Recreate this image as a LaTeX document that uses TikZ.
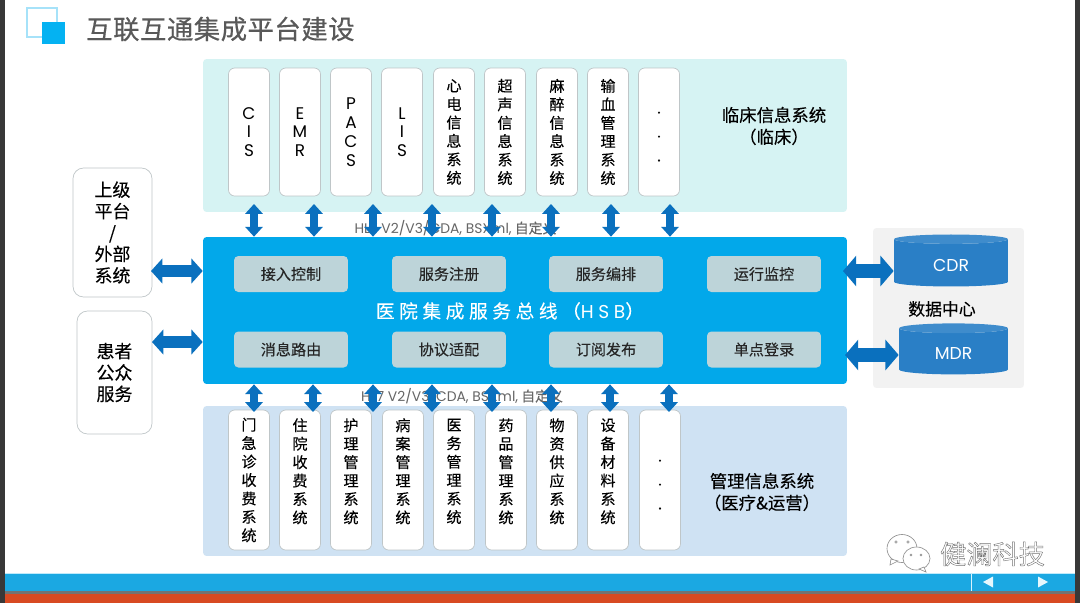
\documentclass[tikz,border=0pt]{standalone}
\usepackage{fontspec}
\setmainfont[FakeBold=0.2]{Noto Sans CJK SC}
\newfontfamily\plainfont{Noto Sans CJK SC}
\newfontfamily\titlefont[LetterSpace=2,FakeBold=0.5]{Noto Sans CJK SC}
\newfontfamily\busfont[LetterSpace=25,FakeBold=0.3]{Noto Sans CJK SC}
\newfontfamily\latinfont{Poppins}
\newfontfamily\buslatin[LetterSpace=25]{Poppins}
\usetikzlibrary{arrows.meta,shapes.geometric}

\definecolor{hsbblue}{HTML}{02A8EA}
\definecolor{arrowblue}{HTML}{0A70BE}
\definecolor{tilegrey}{HTML}{BDD4D9}
\definecolor{clinpanel}{HTML}{D6F3F3}
\definecolor{mgmtpanel}{HTML}{CFE2F3}
\definecolor{cylblue}{HTML}{2A7FC6}
\definecolor{boxline}{HTML}{BFC6C8}
\definecolor{barblue}{HTML}{1BA8E2}
\definecolor{barred}{HTML}{D84A22}
\definecolor{iconblue}{HTML}{04B2F2}

\newcommand{\threedots}{\rule{0pt}{6.3pt}.\\[3.1pt].\\[3.1pt].}
\newcommand{\protocoltext}{{\latinfont HL7 V2/V3/CDA, BSXml,} 自定义}

\tikzset{
  sysbox/.style={draw=boxline, fill=white, rounded corners=3.5pt, minimum width=0.82cm,
    align=center, inner sep=0.001, font=\fontsize{8.6}{10.5}\selectfont},
  clinbox/.style={sysbox, minimum height=2.56cm},
  latinbox/.style={clinbox, font=\latinfont\fontsize{9.6}{10.7}\selectfont},
  mgmtbox/.style={sysbox, minimum height=2.8cm},
  sidebox/.style={draw=boxline, fill=white, rounded corners=6pt, align=center,
    inner sep=0.001, font=\fontsize{10.2}{12.2}\selectfont},
  tile/.style={fill=tilegrey, rounded corners=2.5pt, minimum width=2.28cm, minimum height=0.72cm,
    inner sep=0.001, font=\fontsize{8.6}{10}\selectfont, text=black!85},
  panel/.style={rounded corners=2pt, inner sep=0.001},
  biarrow/.style={draw=arrowblue, line width=4pt, {Triangle[width=9.8pt,length=5.6pt]}-{Triangle[width=9.8pt,length=5.6pt]}},
  wideArrow/.style={draw=arrowblue, line width=7pt, {Triangle[width=14pt,length=6.5pt]}-{Triangle[width=14pt,length=6.5pt]}},
  dataArrow/.style={draw=arrowblue, line width=8pt, {Triangle[width=17pt,length=7.5pt]}-{Triangle[width=17pt,length=7.5pt]}},
  store/.style={cylinder, shape border rotate=90, aspect=0.26, cylinder uses custom fill,
    cylinder body fill=cylblue, cylinder end fill=cylblue!90!white, text=white, inner sep=0.001,
    font=\latinfont\fontsize{9.8}{11}\selectfont},
  protocol/.style={text=black!60, inner sep=0.001, font=\fontsize{7.9}{8}\selectfont},
  panellabel/.style={align=center, inner sep=0.001, font=\fontsize{9.9}{12.4}\selectfont},
}

\begin{document}
\begin{tikzpicture}[x=0.02cm, y=-0.02cm]
  \useasboundingbox (0,0) rectangle (1080,603);

  % Slide frame
  \fill[white] (0,0) rectangle (1080,603);
  \fill[black!78] (0,0) rectangle (5,603);
  \fill[black!78] (1075,0) rectangle (1080,603);
  \fill[cyan!25] (5,572.5) rectangle (1075,574);
  \fill[black!55] (5,591) rectangle (1075,593.5);
  \fill[barblue] (5,574) rectangle (1075,591);
  \fill[barred] (5,593.5) rectangle (1075,603);
  \draw[white!85!cyan, line width=0.5pt] (971,574) -- (971,591);
  \fill[white!90!cyan] (983,582) -- (993,576.5) -- (993,587.5) -- cycle;
  \fill[white!90!cyan] (1048,582) -- (1038,576.5) -- (1038,587.5) -- cycle;

  % Title
  \draw[cyan!35, line width=0.6pt] (27,8) rectangle (57,37);
  \fill[iconblue] (42,22) rectangle (65,44);
  \node[anchor=west, inner sep=0.001, text=black!65, font=\titlefont\fontsize{15}{18}\selectfont] (title) at (86,29) {互联互通集成平台建设};

  % Panels
  \node[panel, fill=clinpanel, minimum width=12.88cm, minimum height=3.06cm] (clinical) at (525,135.5) {};
  \node[panel, fill=mgmtpanel, minimum width=12.88cm, minimum height=3cm] (manage) at (525,481) {};
  \node[panel, fill=black!5, minimum width=3.02cm, minimum height=3.2cm] (datacenter) at (948.5,308) {};
  \node[panel, fill=hsbblue, minimum width=12.88cm, minimum height=2.94cm] (hsb) at (525,310.5) {};

  % Clinical systems
  \node[latinbox] (clin1) at (249,132) {C\\I\\S};
  \node[latinbox] (clin2) at (300,132) {E\\M\\R};
  \node[latinbox] (clin3) at (351,132) {P\\A\\C\\S};
  \node[latinbox] (clin4) at (402,132) {L\\I\\S};
  \node[clinbox] (clin5) at (454,132) {心\\电\\信\\息\\系\\统};
  \node[clinbox] (clin6) at (505,132) {超\\声\\信\\息\\系\\统};
  \node[clinbox] (clin7) at (557,132) {麻\\醉\\信\\息\\系\\统};
  \node[clinbox] (clin8) at (608,132) {输\\血\\管\\理\\系\\统};
  \node[clinbox] (clin9) at (659,132) {\threedots};

  % Management systems
  \node[mgmtbox] (mgmt1) at (249,480) {门\\急\\诊\\收\\费\\系\\统};
  \node[mgmtbox] (mgmt2) at (300,480) {住\\院\\收\\费\\系\\统\\~};
  \node[mgmtbox] (mgmt3) at (351,480) {护\\理\\管\\理\\系\\统\\~};
  \node[mgmtbox] (mgmt4) at (403,480) {病\\案\\管\\理\\系\\统\\~};
  \node[mgmtbox] (mgmt5) at (454,480) {医\\务\\管\\理\\系\\统\\~};
  \node[mgmtbox] (mgmt6) at (506,480) {药\\品\\管\\理\\系\\统\\~};
  \node[mgmtbox] (mgmt7) at (557,480) {物\\资\\供\\应\\系\\统\\~};
  \node[mgmtbox] (mgmt8) at (608,480) {设\\备\\材\\料\\系\\统\\~};
  \node[mgmtbox] (mgmt9) at (660,480) {\threedots};

  % Bus tiles
  \foreach \x/\upname/\lowname [count=\n] in {
    291/接入控制/消息路由, 449/服务注册/协议适配, 606/服务编排/订阅发布, 764/运行监控/单点登录
  } {
    \node[tile] (tileup\n) at (\x,274) {\upname};
    \node[tile] (tilelow\n) at (\x,349.5) {\lowname};
  }
  \node[inner sep=0.001, text=white, font=\busfont\fontsize{10.6}{12}\selectfont] (hsbname) at (510,311) {医院集成服务总线（{\buslatin HSB}）};

  % Side boxes
  \node[sidebox, minimum width=1.58cm, minimum height=2.58cm] (upper) at (112.5,232.5) {上级\\平台\\/\\外部\\系统};
  \node[sidebox, minimum width=1.5cm, minimum height=2.46cm] (patient) at (114.5,372.5) {患者\\公众\\服务};

  % Data centre
  \node[store, minimum width=2.28cm, minimum height=1.04cm] (cdr) at (951,263) {\rule{0pt}{9.2pt}CDR};
  \node[store, minimum width=2.18cm, minimum height=1.02cm] (mdr) at (953.5,351.5) {\rule{0pt}{9.2pt}MDR};
  \node[inner sep=0.001, font=\fontsize{9.6}{11}\selectfont] (dcname) at (942,309) {数据中心};

  % Right hand labels
  \node[panellabel] (clinname) at (774,126) {临床信息系统\\（临床）};
  \node[panellabel] (mgmtname) at (762,492) {管理信息系统\\（医疗\&运营）};

  % Protocol texts
  \node[protocol] (prototop) at (455.5,228) {\protocoltext};
  \node[protocol] (protolow) at (462,396) {\protocoltext};

  % Bus arrows
  \foreach \x [count=\i] in {254,314,373,432,492,551,611,670} {
    \coordinate (topend\i) at (\x,204);
    \draw[biarrow] (topend\i) -- (topend\i |- hsb.north);
  }
  \foreach \x [count=\i] in {254,313,373,432,492,551,610,669} {
    \coordinate (lowend\i) at (\x,412);
    \draw[biarrow] (lowend\i) -- (lowend\i |- hsb.south);
  }
  \coordinate (upperend) at (151,271);
  \coordinate (patientend) at (152,342);
  \draw[wideArrow] (upperend) -- (upperend -| hsb.west);
  \draw[wideArrow] (patientend) -- (patientend -| hsb.west);
  \coordinate (cdrbus) at (843,271);
  \coordinate (mdrbus) at (845,355);
  \draw[dataArrow] (cdrbus) -- (cdrbus -| cdr.west);
  \draw[dataArrow] (mdrbus) -- (mdrbus -| mdr.west);

  % Watermark
  \begin{scope}[draw=black!45, fill=white, line width=0.35pt]
    \filldraw (902,548.5) ellipse[x radius=15, y radius=14];
    \filldraw (891,559) -- (890,565) -- (898,561) -- cycle;
    \filldraw (916.5,558.5) ellipse[x radius=13.5, y radius=11.5];
    \filldraw (924,567) -- (926,572) -- (919,569) -- cycle;
    \draw (896,542) circle[radius=1.2];
    \draw (908,542) circle[radius=1.2];
    \draw (911,555) circle[radius=1];
    \draw (921,555) circle[radius=1];
  \end{scope}
  \node[inner sep=0.001, text=white, font=\plainfont\fontsize{14.9}{16}\selectfont] (brand) at (992.5,554) {\special{pdf:code 0.45 G 0.25 w 2 Tr}健澜科技\special{pdf:code 0 Tr 0 G}};
\end{tikzpicture}
\end{document}
